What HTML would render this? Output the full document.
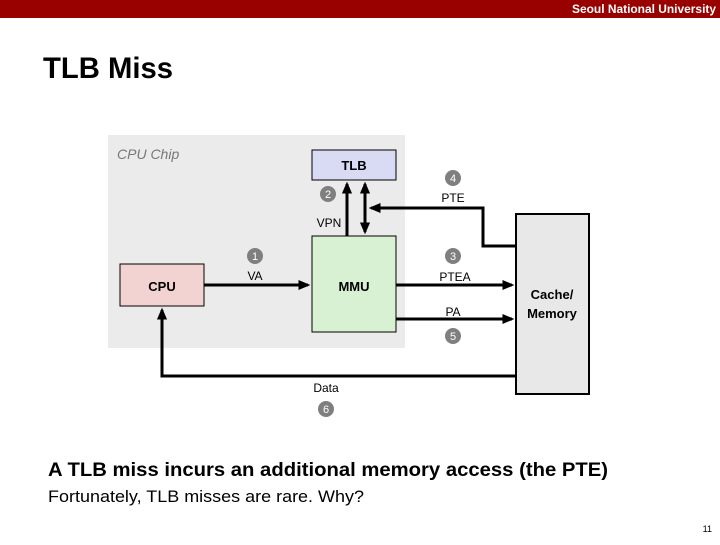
<!DOCTYPE html>
<html><head><meta charset="utf-8"><style>
body{margin:0;width:720px;height:540px;overflow:hidden;background:#fff;font-family:"Liberation Sans",sans-serif}
</style></head><body>
<svg width="720" height="540" viewBox="0 0 720 540" xmlns="http://www.w3.org/2000/svg" font-family="Liberation Sans, sans-serif">
<defs>
<marker id="a" markerWidth="4" markerHeight="4" refX="3.2" refY="2" orient="auto" markerUnits="strokeWidth"><path d="M0,0.3 L4,2 L0,3.7 z" fill="#000"/></marker>
<marker id="b" markerWidth="4" markerHeight="4" refX="0.8" refY="2" orient="auto" markerUnits="strokeWidth"><path d="M4,0.3 L0,2 L4,3.7 z" fill="#000"/></marker>
</defs>
<rect x="0" y="0" width="720" height="18" fill="#990000"/>
<text x="716" y="13" text-anchor="end" font-size="12" fill="#fff" font-weight="bold" textLength="144" lengthAdjust="spacingAndGlyphs">Seoul National University</text>
<text x="43" y="78" font-size="30" font-weight="bold" textLength="130" lengthAdjust="spacingAndGlyphs">TLB Miss</text>
<rect x="108" y="135" width="297" height="213" fill="#ebebeb"/>
<text x="117" y="159" font-size="14" font-style="italic" fill="#777">CPU Chip</text>
<rect x="312" y="150" width="84" height="30" fill="#d9daf3" stroke="#000" stroke-width="1"/>
<text x="354" y="170" font-size="13" font-weight="bold" text-anchor="middle">TLB</text>
<rect x="312" y="236" width="84" height="96" fill="#d7f1d2" stroke="#000" stroke-width="1"/>
<text x="354" y="291" font-size="13" font-weight="bold" text-anchor="middle">MMU</text>
<rect x="120" y="264" width="84" height="42" fill="#f3d2d2" stroke="#000" stroke-width="1"/>
<text x="162" y="291" font-size="13" font-weight="bold" text-anchor="middle">CPU</text>
<rect x="516" y="214" width="73" height="180" fill="#e8e8e8" stroke="#000" stroke-width="2"/>
<text x="552" y="299" font-size="13" font-weight="bold" text-anchor="middle">Cache/</text>
<text x="552" y="318" font-size="13" font-weight="bold" text-anchor="middle">Memory</text>
<g stroke="#000" stroke-width="3" fill="none">
<line x1="347" y1="236" x2="347" y2="184" marker-end="url(#a)"/>
<line x1="365" y1="184" x2="365" y2="232" marker-start="url(#b)" marker-end="url(#a)"/>
<polyline points="516,246 483,246 483,208 371,208" marker-end="url(#a)"/>
<line x1="204" y1="285" x2="308" y2="285" marker-end="url(#a)"/>
<line x1="396" y1="285" x2="512" y2="285" marker-end="url(#a)"/>
<line x1="396" y1="319" x2="512" y2="319" marker-end="url(#a)"/>
<polyline points="516,376 162,376 162,310" marker-end="url(#a)"/>
</g>
<g fill="#7f7f7f"><circle cx="255" cy="256" r="8"/><circle cx="328" cy="194" r="8"/><circle cx="453" cy="256" r="8"/><circle cx="453" cy="178" r="8"/><circle cx="453" cy="336" r="8"/><circle cx="326" cy="409" r="8"/></g>
<g fill="#fff" font-size="11" text-anchor="middle">
<text x="255" y="260">1</text><text x="328" y="198">2</text><text x="453" y="260">3</text><text x="453" y="182">4</text><text x="453" y="340">5</text><text x="326" y="413">6</text></g>
<g font-size="12" text-anchor="middle">
<text x="255" y="280">VA</text><text x="329" y="227">VPN</text><text x="455" y="281">PTEA</text><text x="453" y="202">PTE</text><text x="453" y="316">PA</text><text x="326" y="392">Data</text></g>
<text x="48" y="476" font-size="19" font-weight="bold" textLength="560" lengthAdjust="spacingAndGlyphs">A TLB miss incurs an additional memory access (the PTE)</text>
<text x="48" y="502" font-size="17" textLength="316" lengthAdjust="spacingAndGlyphs">Fortunately, TLB misses are rare. Why?</text>
<text x="712" y="532" font-size="9" text-anchor="end">11</text>
</svg>
</body></html>
